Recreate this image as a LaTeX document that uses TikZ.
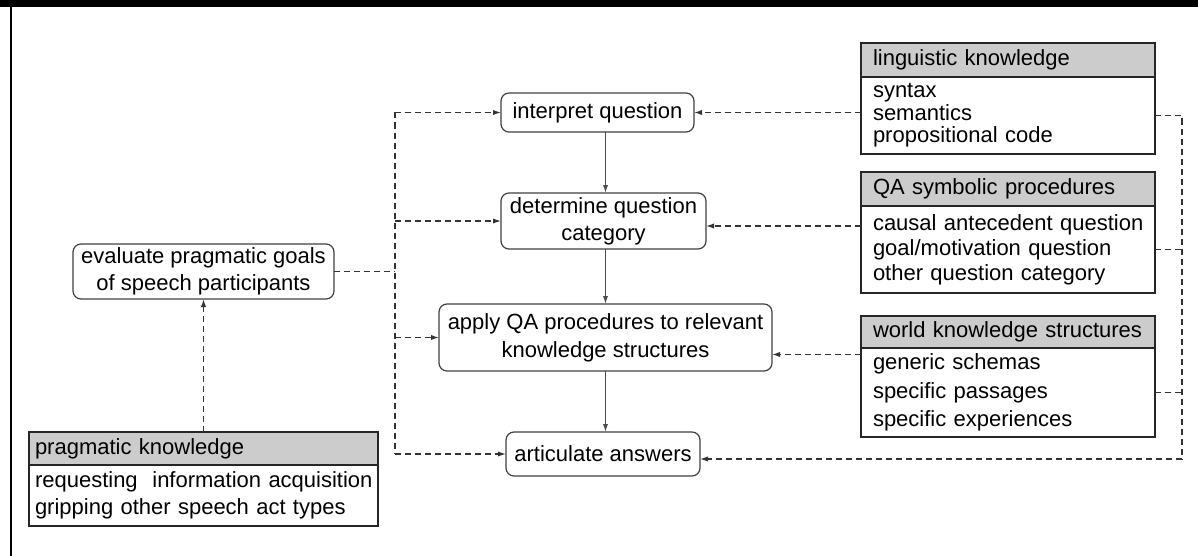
\documentclass[tikz,border=0pt]{standalone}
\usepackage{fontspec}
\setmainfont{Liberation Sans}
\usetikzlibrary{arrows.meta,calc}
\begin{document}
\begin{tikzpicture}[x=0.5pt,y=-0.5pt,
  proc/.style={draw=black!75, rounded corners=4pt, line width=0.6pt, align=center, inner sep=0pt, outer sep=0pt, font=\fontsize{11}{13.5}\selectfont},
  head/.style={draw=black!85, fill=black!20, line width=0.6pt, anchor=north west, inner xsep=2pt, inner ysep=0pt, outer sep=0pt, align=left, text width=143pt, font=\fontsize{11}{12}\selectfont, execute at begin node={\leftskip=4pt\hyphenpenalty=10000\relax}},
  body/.style={draw=black!85, line width=0.6pt, anchor=north west, inner xsep=2pt, inner ysep=0pt, outer sep=0pt, align=left, text width=143pt, execute at begin node={\leftskip=4pt\hyphenpenalty=10000\relax}},
  pbox/.style={inner xsep=0.5pt, text width=173.5pt, execute at begin node={\leftskip=2.5pt\hyphenpenalty=10000\relax}},
  solidarrow/.style={draw=black!70, line width=0.6pt, -{Latex[length=4pt,width=2.6pt]}},
  dsh/.style={draw=black!80, line width=0.6pt, dash pattern=on 3pt off 2pt},
  dsharrow/.style={dsh, -{Latex[length=4pt,width=2.6pt]}}]
\useasboundingbox (0,0) rectangle (1198,556);
\fill[black] (0,0) rectangle (1198,7);
\fill[black] (10,0) rectangle (12,556);

% process nodes
\node[proc, minimum width=96.5pt, minimum height=19.5pt] (interp) at (597.5,112.5) {interpret question};
\node[proc, minimum width=102.5pt, minimum height=28pt] (det) at (603.5,221) {determine question\\category};
\node[proc, minimum width=166.5pt, minimum height=33.5pt, font=\fontsize{11}{14}\selectfont] (apply) at (605.5,337.5) {apply QA procedures to relevant\\knowledge structures};
\node[proc, minimum width=97pt, minimum height=22pt] (art) at (603,454) {articulate answers};
\node[proc, minimum width=130.5pt, minimum height=27.5pt] (eval) at (203.5,271.5) {evaluate pragmatic goals\\of speech participants};

% knowledge boxes
\node[head, minimum height=17pt] (lingh) at (861,43) {linguistic knowledge};
\node[body, minimum height=38.5pt, font=\fontsize{11}{11.3}\selectfont] (lingb) at (861,77) {syntax\\semantics\\propositional code};
\node[head, minimum height=17pt] (qah) at (861,172) {QA symbolic procedures};
\node[body, minimum height=43.5pt, font=\fontsize{11}{12.5}\selectfont] (qab) at (861,206) {causal antecedent question\\goal/motivation question\\other question category};
\node[head, minimum height=16pt] (wh) at (861,316) {world knowledge structures};
\node[body, minimum height=44.5pt, font=\fontsize{11}{14.25}\selectfont] (wb) at (861,348) {generic schemas\\specific passages\\specific experiences};
\node[head, pbox, minimum height=16.5pt] (ph) at (29,432) {pragmatic knowledge};
\node[body, pbox, minimum height=30.5pt, font=\fontsize{11}{13.5}\selectfont] (pb) at (29,465) {requesting~ information acquisition\\gripping other speech act types};

% main flow
\draw[solidarrow] (interp.south -| apply.center) -- (det.north -| apply.center);
\draw[solidarrow] (det.south -| apply.center) -- (apply.north -| apply.center);
\draw[solidarrow] (apply.south) -- (art.north -| apply.center);

% left bus
\coordinate (lbt) at (395,112.5);
\coordinate (lbb) at (395,454);
\draw[dsh] (lbt) -- (lbb);
\draw[dsh] (eval.east) -- (eval.east -| lbt);
\draw[dsharrow] (lbt) -- (interp.west);
\draw[dsharrow] (det.west -| lbt) -- (det.west);
\draw[dsharrow] (apply.west -| lbt) -- (apply.west);
\draw[dsharrow] (lbb) -- (art.west);
\draw[dsharrow] (ph.north -| eval.south) -- (eval.south);

% right side
\coordinate (dq) at ($(det.east)+(0,5)$);
\coordinate (aq) at ($(apply.east)+(0,17)$);
\draw[dsharrow] (interp.east -| lingb.west) -- (interp.east);
\draw[dsharrow] (dq -| qab.west) -- (dq);
\draw[dsharrow] (aq -| wb.west) -- (aq);
\coordinate (rbt) at (1182,115.5);
\coordinate (rbb) at (1182,459);
\draw[dsh] (lingb.east) -- (rbt) -- (rbb);
\draw[dsh] (qab.east) -- (qab.east -| rbt);
\draw[dsh] (wb.east) -- (wb.east -| rbt);
\draw[dsharrow] (rbb) -- (rbb -| art.east);
\end{tikzpicture}
\end{document}
